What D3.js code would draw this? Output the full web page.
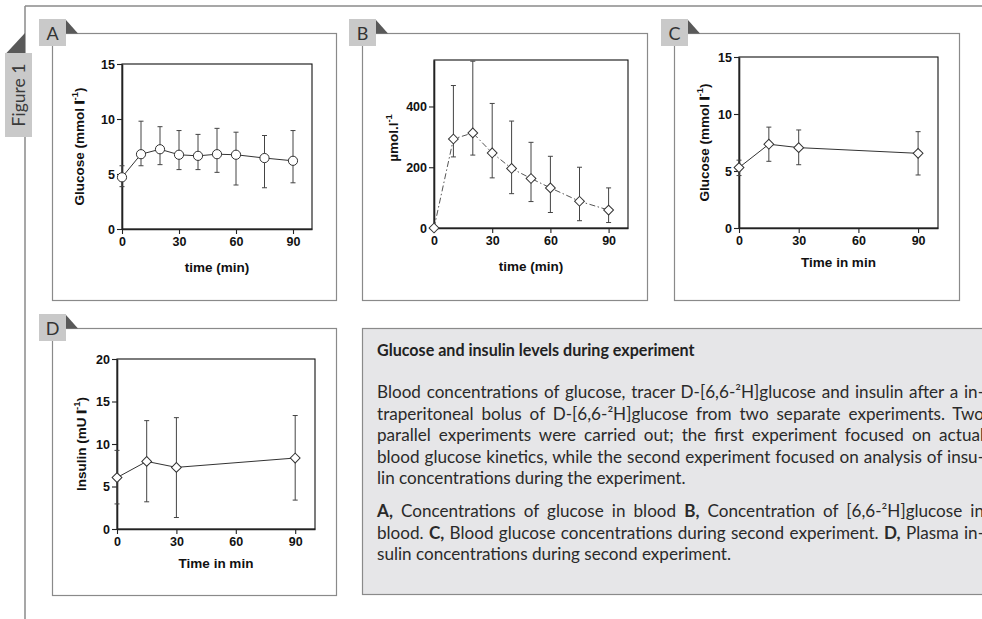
<!DOCTYPE html>
<html><head><meta charset="utf-8">
<script src="https://cdn.jsdelivr.net/npm/d3@7"></script>
<style>
html,body{margin:0;padding:0;background:#fff;}
svg{display:block;}
</style></head><body>
<svg id="fig" width="982" height="619"></svg>
<script>
// ---- Data -------------------------------------------------------------
// A: blood glucose, experiment 1 (mmol/l)
const timeA = [0, 10, 20, 30, 40, 50, 60, 75, 90];
const glucoseA = [4.7, 6.8, 7.25, 6.75, 6.65, 6.8, 6.75, 6.45, 6.2];
const glucoseAHigh = [5.75, 9.8, 9.3, 8.95, 8.6, 9.15, 8.8, 8.5, 8.95];
const glucoseALow = [3.85, 5.75, 5.85, 5.4, 5.4, 5.15, 4.0, 3.75, 4.2];

// B: tracer D-[6,6-2H]glucose (µmol/l)
const timeB = [0, 10, 20, 30, 40, 50, 60, 75, 90];
const tracerB = [0, 293, 313, 247, 196, 163, 132, 88, 59];
const tracerBHigh = [0, 469, 549, 410, 352, 282, 236, 200, 132];
const tracerBLow = [0, 234, 240, 165, 113, 87, 51, 24, 18];

// C: blood glucose, experiment 2 (mmol/l)
const timeC = [0, 15, 30, 90];
const glucoseC = [5.3, 7.35, 7.05, 6.55];
const glucoseCHigh = [5.95, 8.85, 8.6, 8.45];
const glucoseCLow = [4.6, 5.85, 5.55, 4.65];

// D: plasma insulin, experiment 2 (mU/l)
const timeD = [0, 15, 30, 90];
const insulinD = [6.05, 7.95, 7.25, 8.35];
const insulinDHigh = [9.25, 12.75, 13.1, 13.35];
const insulinDLow = [2.95, 3.2, 1.35, 3.4];

// Tick values
const timeTicks = [0, 30, 60, 90];
const glucoseTicks = [0, 5, 10, 15];
const tracerTicks = [0, 200, 400];
const insulinTicks = [0, 5, 10, 15, 20];

// Legend text
const captionTitle = "Glucose and insulin levels during experiment";
const captionLines = [
  [["Blood concentrations of glucose, tracer D-[6,6-²H]glucose and insulin after a in-", false]],
  [["traperitoneal bolus of D-[6,6-²H]glucose from two separate experiments. Two", false]],
  [["parallel experiments were carried out; the first experiment focused on actual", false]],
  [["blood glucose kinetics, while the second experiment focused on analysis of insu-", false]],
  [["lin concentrations during the experiment.", false]],
  null,
  [["A,", true], [" Concentrations of glucose in blood ", false], ["B,", true], [" Concentration of [6,6-²H]glucose in", false]],
  [["blood. ", false], ["C,", true], [" Blood glucose concentrations during second experiment. ", false], ["D,", true], [" Plasma in-", false]],
  [["sulin concentrations during second experiment.", false]]
];
const justified = [true, true, true, true, false, false, true, true, false];

// ---- Drawing ----------------------------------------------------------
const svg = d3.select("#fig");
const frameGrey = "#8a8a8a";
const tabGrey = "#c9c9c9";
const tabDark = "#595959";
const tabFont = "Lato, 'Open Sans', sans-serif";
const chartFont = "'Liberation Sans', Arial, sans-serif";

// outer figure frame
svg.append("line").attr("x1", 25).attr("x2", 982).attr("y1", 6).attr("y2", 6)
  .attr("stroke", frameGrey).attr("stroke-width", 1.5);
svg.append("line").attr("x1", 25).attr("x2", 25).attr("y1", 6).attr("y2", 619)
  .attr("stroke", frameGrey).attr("stroke-width", 1.5);

// "Figure 1" side tab
svg.append("path").attr("d", "M6,53.5 L25,33 L25,53.5 Z").attr("fill", tabDark);
svg.append("rect").attr("x", 5).attr("y", 53).attr("width", 27).attr("height", 84).attr("fill", tabGrey);
svg.append("text").attr("transform", "translate(24.5,95) rotate(-90)")
  .attr("text-anchor", "middle").attr("font-family", tabFont).attr("font-size", 17.5)
  .attr("fill", "#3a3a3a").text("Figure 1");

function panelFrame(x0, y0, x1, y1, letter) {
  const g = svg.append("g");
  g.append("rect").attr("x", x0 + 0.5).attr("y", y0 + 0.5)
    .attr("width", x1 - x0).attr("height", y1 - y0)
    .attr("fill", "#fff").attr("stroke", frameGrey).attr("stroke-width", 1.2);
  g.append("rect").attr("x", x0 - 13).attr("y", y0 - 14).attr("width", 27).attr("height", 27)
    .attr("fill", tabGrey);
  g.append("path").attr("d", `M${x0 + 14},${y0 - 13} L${x0 + 14},${y0 + 0.5} L${x0 + 26},${y0 + 0.5} Z`)
    .attr("fill", tabDark);
  g.append("text").attr("x", x0 + 0.5).attr("y", y0 + 6.5)
    .attr("text-anchor", "middle").attr("font-family", tabFont).attr("font-size", 18)
    .attr("fill", "#333").text(letter);
}

function yLabel(g, x, y, parts) {
  const t = g.append("text").attr("transform", `translate(${x},${y}) rotate(-90)`)
    .attr("text-anchor", "middle").attr("font-family", chartFont)
    .attr("font-weight", "bold").attr("font-size", 13.5).attr("fill", "#111");
  parts.forEach(p => {
    const s = t.append("tspan").text(p.t);
    if (p.sup) s.attr("font-size", 9.5).attr("dy", -6);
    if (p.back) s.attr("dy", 6);
    if (p.heavy) s.attr("stroke", "#111").attr("stroke-width", 0.9);
  });
}

function plot(o) {
  const g = svg.append("g");
  const x = d3.scaleLinear().domain([0, 100]).range([o.left, o.right]);
  const y = d3.scaleLinear().domain([0, o.yMax]).range([o.bottom, o.top]);

  // box
  g.append("rect").attr("x", o.left).attr("y", o.top)
    .attr("width", o.right - o.left).attr("height", o.bottom - o.top)
    .attr("fill", "none").attr("stroke", "#111").attr("stroke-width", 1.1);

  const xAxis = g.append("g").attr("transform", `translate(0,${o.bottom})`)
    .call(d3.axisBottom(x).tickValues(timeTicks).tickSize(5).tickPadding(3).tickSizeOuter(0));
  const yAxis = g.append("g").attr("transform", `translate(${o.left},0)`)
    .call(d3.axisLeft(y).tickValues(o.yTicks).tickSize(5).tickPadding(2).tickSizeOuter(0));
  [xAxis, yAxis].forEach(a => {
    a.select(".domain").attr("stroke", "#222").attr("stroke-width", 1.6);
    a.selectAll(".tick line").attr("stroke", "#222").attr("stroke-width", 1.1);
    a.selectAll(".tick text").attr("font-family", chartFont).attr("font-weight", "bold")
      .attr("font-size", 12.5).attr("fill", "#111");
  });

  const pts = o.t.map((t, i) => ({ t, v: o.v[i], hi: o.hi[i], lo: o.lo[i] }));

  // error bars
  const eb = g.append("g").attr("stroke", "#444").attr("stroke-width", 1);
  pts.filter(d => d.hi !== d.lo).forEach(d => {
    const cx = x(d.t);
    eb.append("line").attr("x1", cx).attr("x2", cx).attr("y1", y(d.hi)).attr("y2", y(d.lo));
    eb.append("line").attr("x1", cx - 2.5).attr("x2", cx + 2.5).attr("y1", y(d.hi)).attr("y2", y(d.hi));
    eb.append("line").attr("x1", cx - 2.5).attr("x2", cx + 2.5).attr("y1", y(d.lo)).attr("y2", y(d.lo));
  });

  // connecting line
  const line = d3.line().x(d => x(d.t)).y(d => y(d.v));
  g.append("path").datum(pts).attr("d", line).attr("fill", "none")
    .attr("stroke", o.dash ? "#555" : "#333").attr("stroke-width", 1)
    .attr("stroke-dasharray", o.dash || null);

  // markers
  if (o.marker === "circle") {
    g.selectAll(".m").data(pts).enter().append("circle")
      .attr("cx", d => x(d.t)).attr("cy", d => y(d.v)).attr("r", 4.6)
      .attr("fill", "#fff").attr("stroke", "#333").attr("stroke-width", 1);
  } else {
    const sym = d3.symbol().type(d3.symbolSquare).size(48);
    g.selectAll(".m").data(pts).enter().append("path")
      .attr("d", sym).attr("transform", d => `translate(${x(d.t)},${y(d.v)}) rotate(45)`)
      .attr("fill", "#fff").attr("stroke", "#333").attr("stroke-width", 1);
  }

  // axis titles
  g.append("text").attr("x", (o.left + o.right) / 2).attr("y", o.bottom + o.xTitleDy)
    .attr("text-anchor", "middle").attr("font-family", chartFont).attr("font-weight", "bold")
    .attr("font-size", 13.5).attr("fill", "#111").text(o.xTitle);
  yLabel(g, o.left - o.yTitleDx, (o.top + o.bottom) / 2 + (o.yTitleShift || 0), o.yTitle);
}

const glucoseTitle = [
  { t: "Glucose (mmol " }, { t: "l", heavy: true }, { t: "-1", sup: true }, { t: ")", back: true }
];

// Panel A
panelFrame(52, 33, 336, 300, "A");
plot({ left: 122, right: 312, top: 64, bottom: 229, yMax: 15, yTicks: glucoseTicks,
  t: timeA, v: glucoseA, hi: glucoseAHigh, lo: glucoseALow, marker: "circle",
  xTitle: "time (min)", xTitleDy: 43, yTitleDx: 38, yTitle: glucoseTitle });

// Panel B
panelFrame(362, 33, 647, 300, "B");
plot({ left: 434, right: 628, top: 60, bottom: 228, yMax: 553, yTicks: tracerTicks,
  t: timeB, v: tracerB, hi: tracerBHigh, lo: tracerBLow, marker: "diamond", dash: "6,2.5,1.5,2.5",
  xTitle: "time (min)", xTitleDy: 43, yTitleDx: 36, yTitleShift: -6,
  yTitle: [{ t: "µmol.l" }, { t: "-1", sup: true }] });

// Panel C
panelFrame(674, 33, 959, 300, "C");
plot({ left: 739, right: 938, top: 57, bottom: 228, yMax: 15, yTicks: glucoseTicks,
  t: timeC, v: glucoseC, hi: glucoseCHigh, lo: glucoseCLow, marker: "diamond",
  xTitle: "Time in min", xTitleDy: 39, yTitleDx: 30, yTitle: glucoseTitle });

// Panel D
panelFrame(52, 328, 336, 595, "D");
plot({ left: 117, right: 315, top: 359, bottom: 529, yMax: 20, yTicks: insulinTicks,
  t: timeD, v: insulinD, hi: insulinDHigh, lo: insulinDLow, marker: "diamond",
  xTitle: "Time in min", xTitleDy: 39, yTitleDx: 31,
  yTitle: [{ t: "Insulin (mU " }, { t: "l", heavy: true }, { t: "-1", sup: true }, { t: ")", back: true }] });

// ---- Caption box ------------------------------------------------------
const capX = 377, capRight = 984;
svg.append("rect").attr("x", 362.5).attr("y", 328.5).attr("width", 700).attr("height", 266)
  .attr("fill", "#e6e6e8").attr("stroke", frameGrey).attr("stroke-width", 1.2);
const capFont = "Lato, 'Open Sans', sans-serif";

const lineYs = [398, 419.5, 441, 462.5, 484, null, 517, 538.5, 560];
const capTexts = [];
captionLines.forEach((segs, i) => {
  if (!segs) return;
  const t = svg.append("text").attr("x", capX).attr("y", lineYs[i])
    .attr("font-family", capFont).attr("font-size", 15).attr("fill", "#2a2a2a")
    .style("white-space", "pre");
  segs.forEach(([s, b]) => t.append("tspan").attr("font-weight", b ? "bold" : "normal").text(s));
  capTexts.push({ t, i, full: segs.map(s => s[0]).join("") });
});

// choose a body size so the widest justified line sets with about normal word gaps
const widest = d3.max(capTexts.filter(d => justified[d.i]), d => d.t.node().getComputedTextLength());
const bodySize = Math.max(14, Math.min(17.5, 15 * (capRight - capX - 6) / widest));
capTexts.forEach(d => {
  d.t.attr("font-size", bodySize);
  if (justified[d.i]) {
    const spaces = (d.full.match(/ /g) || []).length;
    const w = d.t.node().getComputedTextLength();
    if (spaces) d.t.attr("word-spacing", (capRight - capX - w) / spaces);
  }
});
svg.append("text").attr("x", capX).attr("y", 356).attr("font-family", capFont)
  .attr("font-size", bodySize * 0.94).attr("font-weight", "bold").attr("fill", "#222").text(captionTitle);
</script>
</body></html>
